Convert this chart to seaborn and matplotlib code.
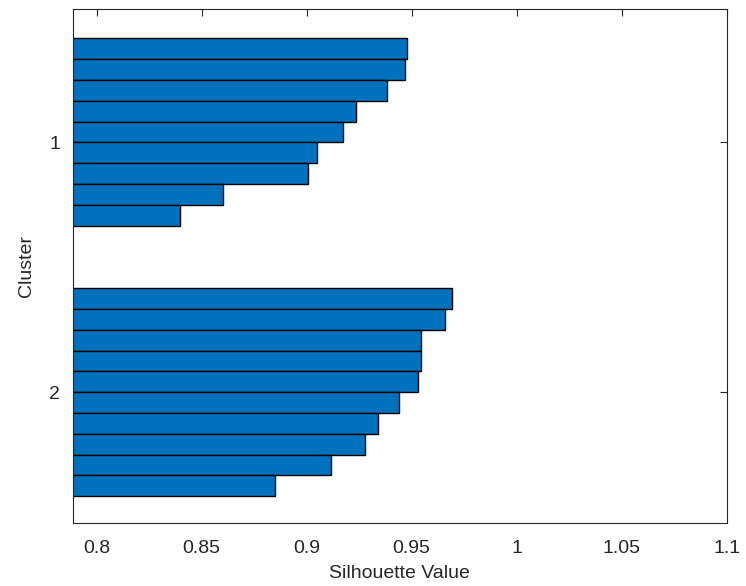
import numpy as np
import pandas as pd
import seaborn as sns
import matplotlib
matplotlib.use('Agg')
import matplotlib.pyplot as plt

sns.set_style('white')
plt.rcParams['font.family'] = ['Liberation Sans', 'DejaVu Sans']

# silhouette values, sorted top to bottom
cluster1_vals = [0.9476, 0.9468, 0.9381, 0.9236, 0.9171, 0.9050, 0.9008, 0.8603, 0.8395]
cluster2_vals = [0.9692, 0.9660, 0.9544, 0.9546, 0.9532, 0.9438, 0.9338, 0.9279, 0.9114, 0.8849]
cluster_labels = ['1', '2']
xtick_vals = [0.8, 0.85, 0.9, 0.95, 1, 1.05, 1.1]
xtick_labels = ['0.8', '0.85', '0.9', '0.95', '1', '1.05', '1.1']

# bar slots like matlab's silhouette(): gaps between clusters
pos1 = list(range(2, 2 + len(cluster1_vals)))
pos2 = list(range(14, 14 + len(cluster2_vals)))
df = pd.DataFrame({
    'value': cluster1_vals + cluster2_vals,
    'pos': pos1 + pos2,
})
cluster_ticks = [6.5, 18.5]

fig = plt.figure(figsize=(7.46, 5.86), dpi=100)
ax = fig.add_axes([0.0975, 0.107, 0.8765, 0.8775])

sns.barplot(data=df, x='value', y='pos', orient='h', native_scale=True,
            width=1.0, color='#0072BD', saturation=1, edgecolor='black',
            linewidth=1.0, ax=ax)

grey = '#262626'
ax.set_xlim(0.7886, 1.1)
ax.set_ylim(24.8, 0.1)
ax.set_xticks(xtick_vals)
ax.set_xticklabels(xtick_labels)
ax.set_yticks(cluster_ticks)
ax.set_yticklabels(cluster_labels)
ax.tick_params(direction='in', top=True, right=True, length=5, width=0.8,
               colors=grey, labelsize=14)
ax.tick_params(axis='x', pad=12)
ax.tick_params(axis='y', pad=9)
for sp in ax.spines.values():
    sp.set_color(grey)
    sp.set_linewidth(0.8)
    sp.set_visible(True)
ax.set_xlabel('Silhouette Value', fontsize=14, color=grey, labelpad=6)
ax.set_ylabel('Cluster', fontsize=14, color=grey, labelpad=10)

fig.savefig('out.png', dpi=100)
